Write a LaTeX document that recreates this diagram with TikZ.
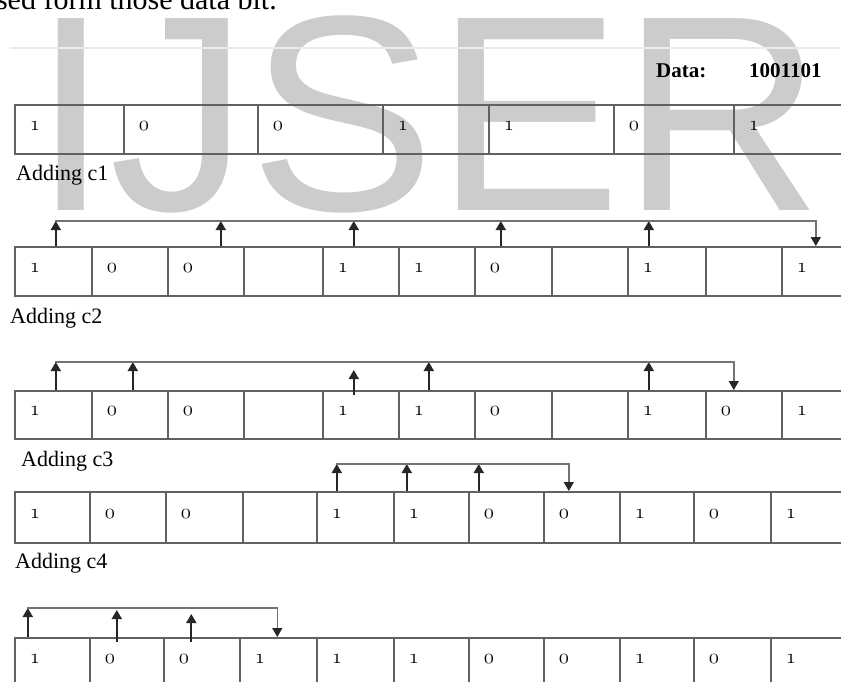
\documentclass[tikz,border=0pt]{standalone}
\usepackage{fontspec}
\newfontfamily\tnr{Liberation Serif}
\newfontfamily\wmfont{Liberation Sans}
\usetikzlibrary{arrows.meta}
\newcommand\bitfmt[1]{\if#1n\else$\mathnormal{#1}$\fi}
\newcommand\cellrow[4]{%
  \foreach \l/\r/\b [count=\i] in {#4} {%
    \pgfmathsetmacro\w{\r-\l-30}%
    \node[cellbox, text width=\w pt, minimum height=#3pt, anchor=north west] (#1c\i) at (\l,#2) {\bitfmt{\b}};
  }}
\tikzset{
  cellbox/.style={draw=black!62, line width=1.6pt, rectangle, inner xsep=15pt, inner ysep=0pt,
    align=left, text height=9pt, text depth=7pt, font=\fontsize{20.74}{21}\selectfont},
  lbl/.style={inner sep=0pt, anchor=base west, font=\tnr\fontsize{22}{22}\selectfont},
  arr/.style={line width=1.8pt, draw=black!85, -{Triangle[width=10pt,length=9pt]}},
  bus/.style={line width=1.5pt, draw=black!55, -{Triangle[width=10pt,length=9pt,color=black!85]}},
}
\begin{document}
\begin{tikzpicture}[x=1pt,y=-1pt]
\useasboundingbox (0,0) rectangle (841,682);
% watermark
\node[inner sep=0pt, anchor=base west, text=black!20, font=\wmfont\fontsize{279}{279}\selectfont] (wm) at (32,210) {IJSER};
% top text and rule
\node[inner sep=0pt, anchor=base east, font=\tnr\fontsize{30}{30}\selectfont] (toptext) at (277,10) {used form those data bit.};
\coordinate (ruleA) at (10,48);
\coordinate (ruleB) at (841,48);
\draw[draw=black!8, line width=1.5pt] (ruleA) -- (ruleB);
% data
\node[lbl, font=\tnr\bfseries\fontsize{21}{21}\selectfont] (data) at (656,78) {Data:};
\node[lbl, font=\tnr\bfseries\fontsize{21}{21}\selectfont] (dataval) at (749,78) {1001101};
% rows
\cellrow{r1}{104}{49}{14/123/1,123/257/0,257/382/0,382/488/1,488/613/1,613/733/0,733/870/1}
\node[lbl] (add1) at (16,180) {Adding c1};
\cellrow{r2}{246}{49}{14/91/1,91/167/0,167/243/0,243/322/n,322/398/1,398/474/1,474/551/0,551/627/n,627/705/1,705/781/n,781/870/1}
\node[lbl] (add2) at (10,323) {Adding c2};
\cellrow{r3}{390}{48}{14/91/1,91/167/0,167/243/0,243/322/n,322/398/1,398/474/1,474/551/0,551/627/n,627/705/1,705/781/0,781/870/1}
\node[lbl] (add3) at (21,466) {Adding c3};
\cellrow{r4}{491}{51}{14/89/1,89/165/0,165/242/0,242/316/n,316/393/1,393/468/1,468/543/0,543/619/0,619/693/1,693/770/0,770/870/1}
\node[lbl] (add4) at (15,568) {Adding c4};
\cellrow{r5}{637}{50}{14/89/1,89/163/0,163/239/0,239/316/1,316/393/1,393/468/1,468/543/0,543/619/0,619/693/1,693/770/0,770/870/1}
% row 2 arrows (c1)
\coordinate (b2) at (55,221);
\foreach \c/\dx in {1/2.5,3/15,5/-7,7/-12.5,9/-18}
  \draw[arr] ([xshift=\dx pt]r2c\c.north) -- ([xshift=\dx pt]r2c\c.north |- b2);
\draw[bus] (b2) -| ([xshift=-10.5pt]r2c11.north);
% row 3 arrows (c2)
\coordinate (b3) at (55,362);
\foreach \c/\dx in {1/2.5,2/3,6/-8,9/-18}
  \draw[arr] ([xshift=\dx pt]r3c\c.north) -- ([xshift=\dx pt]r3c\c.north |- b3);
\draw[arr] ([xshift=-7pt,yshift=-5pt]r3c5.north) -- ++(0,-25);
\draw[bus] (b3) -| ([xshift=-10pt]r3c10.north);
% row 4 arrows (c3)
\coordinate (b4) at (336,464);
\foreach \c/\dx in {5/-18.5,6/-24.5,7/-27.5}
  \draw[arr] ([xshift=\dx pt]r4c\c.north) -- ([xshift=\dx pt]r4c\c.north |- b4);
\draw[bus] (b4) -| ([xshift=-13pt]r4c8.north);
% row 5 arrows (c4)
\coordinate (b5) at (27,608);
\draw[arr] ([xshift=-24.5pt]r5c1.north) -- ([xshift=-24.5pt]r5c1.north |- b5);
\draw[arr] ([xshift=-10pt,yshift=-5pt]r5c2.north) -- ++(0,-32);
\draw[arr] ([xshift=-10.5pt,yshift=-5pt]r5c3.north) -- ++(0,-28);
\draw[bus] (b5) -| ([xshift=-1pt]r5c4.north);
\end{tikzpicture}
\end{document}
